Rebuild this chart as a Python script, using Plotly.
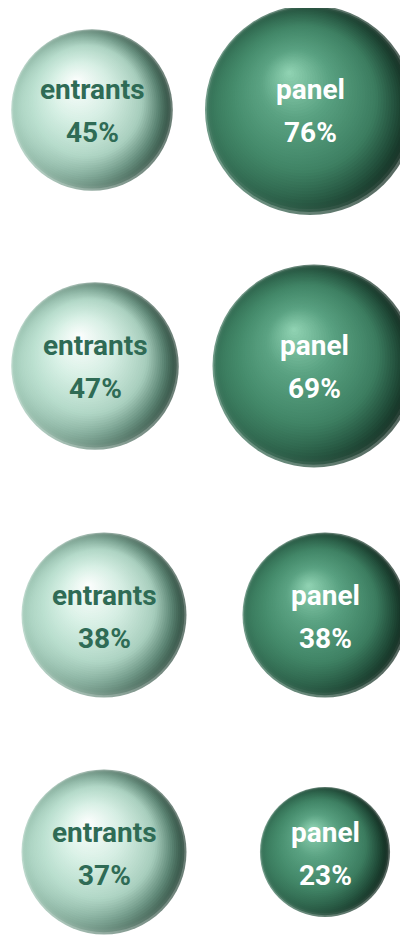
import math
import plotly.graph_objects as go

# data
groups = ["entrants", "panel"]
entrants_pct = [45, 47, 38, 37]
panel_pct = [76, 69, 38, 23]

PAGE_OFF = 8          # default body margin of the html page
W, H = 408 - PAGE_OFF, 935 - PAGE_OFF

# layout per row (page pixels): centre y, centre x of each sphere, size of biggest sphere
row_cy = [110, 366, 615, 852]
row_cx = [(92, 310), (95, 314), (104, 325), (104, 325)]
row_dmax = [210, 203, 165, 165]
band = 150  # px height of each row band

# shading ramps: (t, left colour, right colour); t=0 is the rim, t=1 the highlight
ramps = {
    "entrants": [(0.0, "#a0c9b7", "#2a463a"), (0.12, "#afd6c5", "#567f6e"),
                 (0.3, "#bbe0d0", "#a6cdbc"), (0.62, "#daf2e7", "#d4ede2"),
                 (1.0, "#ffffff", "#ffffff")],
    "panel": [(0.0, "#337055", "#0d2219"), (0.12, "#3c7e60", "#1f4a37"),
              (0.3, "#448b6b", "#3c7d60"), (0.65, "#5ba383", "#58a080"),
              (1.0, "#94d6b6", "#94d6b6")],
}
text_col = {"entrants": "#2f6b55", "panel": "#ffffff"}
hl = (-0.2, 0.36)    # highlight offset, fraction of radius (x right, y up)
N = 48               # shading layers per sphere


def hex2rgb(h):
    return [int(h[i:i + 2], 16) for i in (1, 3, 5)]


def ramp_at(stops, t):
    for (t0, l0, r0), (t1, l1, r1) in zip(stops, stops[1:]):
        if t <= t1:
            f = (t - t0) / (t1 - t0)
            mix = lambda a, b: "rgb(%d,%d,%d)" % tuple(
                round(u + (v - u) * f) for u, v in zip(hex2rgb(a), hex2rgb(b)))
            return mix(l0, l1), mix(r0, r1)
    return stops[-1][1], stops[-1][2]


fig = go.Figure()
layout = dict(width=W, height=H, margin=dict(l=0, r=0, t=0, b=0),
              paper_bgcolor="white", plot_bgcolor="rgba(0,0,0,0)", showlegend=False)
annotations = []

for r in range(4):
    vals = [entrants_pct[r], panel_pct[r]]
    vmax = max(vals)
    diam = [row_dmax[r] * math.sqrt(v / vmax) for v in vals]
    cx0, cx1 = row_cx[r][0] - PAGE_OFF, row_cx[r][1] - PAGE_OFF
    span = W / (cx1 - cx0)
    x0 = -cx0 / (cx1 - cx0)
    ppx = span / W          # data units per px in x
    ppy = 2.0 / band        # data units per px in y
    sfx = "" if r == 0 else str(r + 1)
    xa, ya = "x" + sfx, "y" + sfx
    c = 1 - (row_cy[r] - PAGE_OFF) / H
    h = band / H
    layout["xaxis" + sfx] = dict(range=[x0, x0 + span], domain=[0, 1], visible=False,
                                 fixedrange=True, anchor=ya)
    layout["yaxis" + sfx] = dict(range=[-1, 1], domain=[c - h / 2, c + h / 2], visible=False,
                                 fixedrange=True, anchor=xa)

    # each sphere = stack of shrinking circles drifting towards the highlight
    px_, py_, sz, cl, cr = [], [], [], [], []
    for i, g in enumerate(groups):
        R = diam[i] / 2
        for k in range(N):
            t = k / N
            px_.append(i + hl[0] * R * t * ppx)
            py_.append(0 + hl[1] * R * t * ppy)
            sz.append(2 * R * (1 - t))
            left, right = ramp_at(ramps[g], t)
            cl.append(left)
            cr.append(right)
    fig.add_trace(go.Scatter(
        x=px_, y=py_, xaxis=xa, yaxis=ya, mode="markers", hoverinfo="skip", cliponaxis=False,
        marker=dict(size=sz, sizemode="diameter", color=cl, line=dict(width=0),
                    gradient=dict(type="horizontal", color=cr))))

    for i, g in enumerate(groups):
        for txt, shift in ((g, 20), ("%d%%" % vals[i], -23)):
            annotations.append(dict(
                x=i, y=0, xref=xa, yref=ya, text="<b>%s</b>" % txt, showarrow=False,
                yshift=shift, font=dict(family="Roboto, sans-serif", size=28,
                                        color=text_col[g])))

layout["annotations"] = annotations
fig.update_layout(**layout)
fig.write_html("out.html")
